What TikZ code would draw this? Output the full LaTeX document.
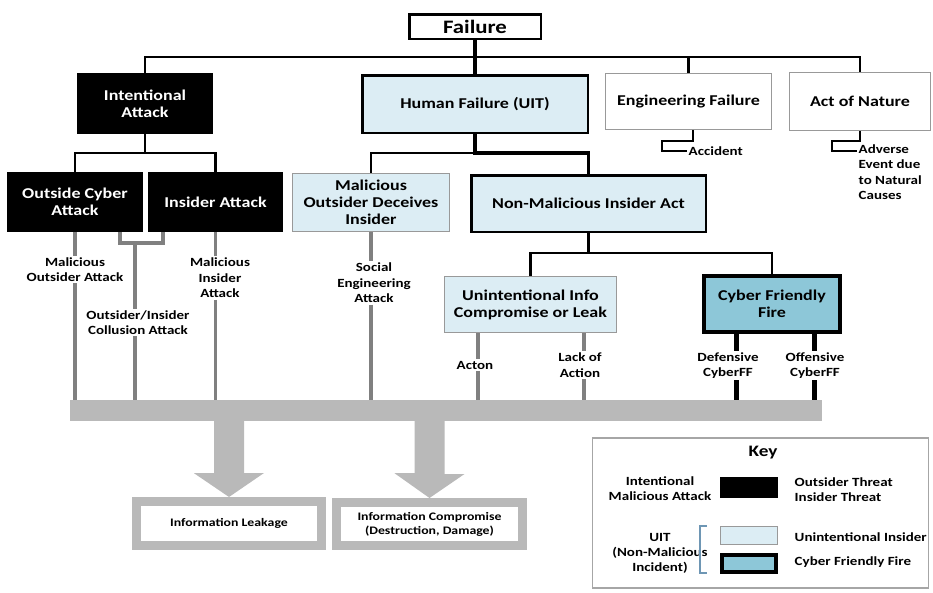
\documentclass[tikz,border=0pt]{standalone}
\usepackage{fontspec}
\setmainfont{Carlito}[FakeStretch=1.2]
\usetikzlibrary{calc}
\definecolor{uitblue}{RGB}{220,237,244}
\definecolor{cffblue}{RGB}{141,199,216}
\definecolor{keyline}{RGB}{110,150,180}

\begin{document}
\begin{tikzpicture}[x=1pt, y=-1pt,
	box/.style={rectangle, inner sep=0pt, align=center, font=\bfseries\fontsize{15}{17}\selectfont},
	malbox/.style={box, fill=black, text=white},
	uitbox/.style={box, fill=uitblue, draw=gray!80, line width=1pt},
	nonmalbox/.style={box, fill=uitblue, draw=black, line width=2.5pt},
	cffbox/.style={box, fill=cffblue, draw=black, line width=4pt},
	otherbox/.style={box, fill=white, draw=gray!80, line width=1pt},
	lab/.style={inner sep=1.5pt, align=center, font=\bfseries\fontsize{12.5}{15.5}\selectfont},
	keylab/.style={lab, font=\bfseries\fontsize{12.5}{15}\selectfont},
	outbox/.style={rectangle, draw=gray!55, line width=9pt, inner sep=0pt, align=center, font=\bfseries\fontsize{11.5}{14}\selectfont},
	branch/.style={line width=2.2pt},
	thickbranch/.style={line width=3.8pt},
	stemline/.style={draw=gray, line width=3.5pt},
	ffstem/.style={line width=5pt},
	busbar/.style={rectangle, fill=gray!55, inner sep=0pt},
	bigarrow/.style={fill=gray!55}
]
	\useasboundingbox (0,0) rectangle (933,592);

	% boxes
	\node [box, draw, line width=2.5pt, minimum width=131.5, minimum height=24.5, font=\bfseries\fontsize{19}{21}\selectfont] (fail) at (475,26.5) {Failure};
	\node [malbox, minimum width=136, minimum height=61] (intent) at (145,103.5) {Intentional\\Attack};
	\node [nonmalbox, minimum width=225.5, minimum height=57.5] (human) at (475,104) {Human Failure (UIT)};
	\node [otherbox, minimum width=166, minimum height=56] (eng) at (688.5,101.5) {Engineering Failure};
	\node [otherbox, minimum width=141, minimum height=58] (nature) at (860,101.5) {Act of Nature};
	\node [malbox, minimum width=136, minimum height=60] (outside) at (75,202) {Outside Cyber\\Attack};
	\node [malbox, minimum width=135, minimum height=60] (insider) at (215.5,202) {Insider Attack};
	\node [uitbox, minimum width=157, minimum height=58] (deceive) at (371,202.5) {Malicious\\Outsider Deceives\\Insider};
	\node [nonmalbox, minimum width=234.5, minimum height=56.5] (nonmal) at (588.5,203.5) {Non-Malicious Insider Act};
	\node [uitbox, minimum width=172, minimum height=56] (unint) at (530.5,304.5) {Unintentional Info\\Compromise or Leak};
	\node [cffbox, minimum width=136, minimum height=56] (cff) at (772,304) {Cyber Friendly\\Fire};

	% tree lines
	\coordinate (topbar) at (475,57);
	\coordinate (ibar) at (145,153);
	\coordinate (hbar) at (475,153);
	\coordinate (nbar) at (587,253);
	\draw [thickbranch] (fail.south) -- (human.north);
	\draw [branch] (intent.north) |- (nature.north |- topbar) -- (nature.north);
	\draw [branch] (eng.north) -- (eng.north |- topbar);
	\draw [branch] (intent.south) -- (ibar);
	\draw [branch] (outside.north) |- (ibar) -| (insider.north);
	\draw [thickbranch] (human.south) -- (hbar) -| (nonmal.north);
	\draw [branch] (hbar) -| (deceive.north);
	\draw [thickbranch] (nonmal.south |- nonmal.south) -- (nonmal.south |- nbar);
	\draw [branch] (unint.north) |- (nbar) -| (cff.north);

	% side outcomes
	\node [lab, anchor=west] (acc) at (687,151) {Accident};
	\coordinate (advin) at (857,151);
	\node [lab, anchor=north west, align=left] (adv) at (857,143) {Adverse\\Event due\\to Natural\\Causes};
	\draw [line width=2pt] (eng.south -| 693,0) |- (662,141) |- (acc.west);
	\draw [line width=2pt] (nature.south) |- (832,141) |- (advin);

	% bus and labels
	\node [busbar, minimum width=752, minimum height=21] (bus) at (446,410.5) {};
	\node [lab] (moa) at (75,269.5) {Malicious\\Outsider Attack};
	\node [lab] (col) at (138,322.5) {Outsider/Insider\\Collusion Attack};
	\node [lab] (mia) at (220,278) {Malicious\\Insider\\Attack};
	\node [lab] (sea) at (374,283) {Social\\Engineering\\Attack};
	\node [lab] (act) at (475,365) {Acton};
	\node [lab] (lack) at (580,365) {Lack of\\Action};
	\node [lab] (def) at (728,365.5) {Defensive\\CyberFF};
	\node [lab] (off) at (815,365.5) {Offensive\\CyberFF};

	\draw [stemline] (outside.south) -- (moa.north -| outside.south);
	\draw [stemline] (moa.south -| outside.south) -- (bus.north -| outside.south);
	\draw [stemline] (outside.south -| 120,0) |- (163,243) -- (insider.south -| 163,0);
	\draw [stemline] (135,243) -- (col.north -| 135,0);
	\draw [stemline] (col.south -| 135,0) -- (bus.north -| 135,0);
	\draw [stemline] (insider.south) -- (mia.north -| insider.south);
	\draw [stemline] (mia.south -| insider.south) -- (bus.north -| insider.south);
	\draw [stemline] (deceive.south) -- (sea.north -| deceive.south);
	\draw [stemline] (sea.south -| deceive.south) -- (bus.north -| deceive.south);
	\draw [stemline] (unint.south -| 478,0) -- (act.north -| 478,0);
	\draw [stemline] (act.south -| 478,0) -- (bus.north -| 478,0);
	\draw [stemline] (unint.south -| 584,0) -- (lack.north -| 584,0);
	\draw [stemline] (lack.south -| 584,0) -- (bus.north -| 584,0);
	\draw [ffstem] (cff.south -| 736,0) -- (def.north -| 736,0);
	\draw [ffstem] (def.south -| 736,0) -- (bus.north -| 736,0);
	\draw [ffstem] (cff.south -| 814,0) -- (off.north -| 814,0);
	\draw [ffstem] (off.south -| 814,0) -- (bus.north -| 814,0);

	% results
	\node [outbox, minimum width=185, minimum height=44] (leak) at (229,523.5) {Information Leakage};
	\node [outbox, minimum width=186, minimum height=43] (comp) at (429.5,524) {Information Compromise\\(Destruction, Damage)};
	\foreach \t in {leak,comp}
		\fill [bigarrow] ($(bus.south -| \t.north)+(-15,-2)$) -- ++(0,54) -- ++(-20,0) -- (\t.north) -- ++(35,-24) -- ++(-20,0) -- ++(0,-54) -- cycle;

	% key
	\node [rectangle, draw=gray!70, line width=1.2pt, minimum width=336, minimum height=150] (key) at (760.5,513) {};
	\node [font=\bfseries\fontsize{16}{18}\selectfont] (keytitle) at (763,453) {Key};
	\node [malbox, minimum width=58, minimum height=21] (kmal) at (749,487.5) {};
	\node [uitbox, minimum width=57, minimum height=18] (kuit) at (749,535.5) {};
	\node [cffbox, minimum width=54, minimum height=17] (kcff) at (749,563.5) {};
	\node [keylab] (kmaltext) at (660,489) {Intentional\\Malicious Attack};
	\node [keylab, anchor=west, align=left] (kthreat) at (793,489.5) {Outsider Threat\\Insider Threat};
	\node [keylab] (kuittext) at (660,553) {UIT\\(Non-Malicious\\Incident)};
	\node [keylab, anchor=west] (kinsider) at (793,537) {Unintentional Insider};
	\node [keylab, anchor=west] (kfire) at (793,562) {Cyber Friendly Fire};
	\draw [keyline, line width=1.2pt] (707,526) -| (700,573) -- (707,573);
\end{tikzpicture}
\end{document}
